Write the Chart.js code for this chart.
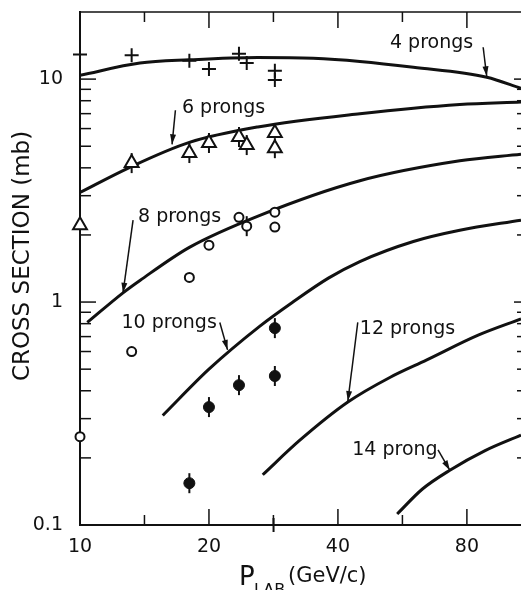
<!DOCTYPE html>
<html>
<head>
<meta charset="utf-8">
<script src="https://cdn.jsdelivr.net/npm/chart.js@4.4.1/dist/chart.umd.min.js"></script>
<style>
  html, body { margin: 0; padding: 0; background: #fff; overflow: hidden; }
  #wrap { width: 521px; height: 590px; position: relative; }
</style>
</head>
<body>
<div id="wrap"><canvas id="grafico"></canvas></div>
<script>
// P_lab (GeV/c) vs cross section (mb)

// theory curves
const curve4X = [10, 13.8, 18, 26, 35, 45, 60, 89, 107];
const curve4Y = [10.4, 11.8, 12.2, 12.5, 12.4, 12.0, 11.3, 10.2, 9.1];
const curve6X = [10, 13, 18, 26, 45, 77, 107];
const curve6Y = [3.1, 4.0, 5.2, 6.1, 7.0, 7.7, 7.9];
const curve8X = [10.4, 12.6, 13.8, 18, 26.3, 45, 77, 107];
const curve8Y = [0.81, 1.1, 1.25, 1.76, 2.45, 3.5, 4.3, 4.6];
const curve10X = [15.6, 20, 26.3, 31.4, 38, 45, 60, 77, 107];
const curve10Y = [0.31, 0.50, 0.78, 1.0, 1.28, 1.52, 1.87, 2.1, 2.33];
const curve12X = [26.7, 32.6, 42.2, 53, 64.5, 85, 107];
const curve12Y = [0.168, 0.24, 0.356, 0.46, 0.55, 0.71, 0.84];
const curve14X = [55, 63, 73, 88, 107];
const curve14Y = [0.112, 0.145, 0.176, 0.215, 0.253];

// measured points
const plus4X = [10, 13.2, 18, 20, 23.5, 24.5, 28.5, 28.5, 28.3];
const plus4Y = [12.9, 12.8, 12.1, 11.1, 13.0, 11.8, 10.9, 9.9, 0.1];
const tri6X = [10, 13.2, 18, 20, 23.5, 24.5, 28.5, 28.5];
const tri6Y = [2.21, 4.2, 4.66, 5.17, 5.5, 5.06, 5.73, 4.9];
const tri6Bar = [0, 1, 1, 1, 1, 1, 0, 1];
const circ8X = [10, 13.2, 18, 20, 23.5, 24.5, 28.5, 28.5];
const circ8Y = [0.249, 0.60, 1.29, 1.80, 2.40, 2.19, 2.53, 2.17];
const circ8Bar = [1, 0, 0, 0, 0, 1, 0, 0];
const dot10X = [18, 20, 23.5, 28.5, 28.5];
const dot10Y = [0.154, 0.338, 0.424, 0.764, 0.466];
const dot10Bar = [1, 1, 1, 1, 1];

// axes
const xLabelValues = [10, 20, 40, 80];
const xTickValues = [14.14, 20, 28.28, 40, 56.57, 80];
const yLabelValues = [0.1, 1, 10];
const yMajorTicks = [1, 10];
const yMinorTicks = [0.2, 0.3, 0.4, 0.5, 0.6, 0.7, 0.8, 0.9, 2, 3, 4, 5, 6, 7, 8, 9];

// curve labels: text anchor, arrow start, arrow tip (data coords)
const notes = [
  { text: '4 prongs', at: [52.9, 14.5], from: [87.3, 13.9], to: [89.0, 10.3] },
  { text: '6 prongs', at: [17.3, 7.4], from: [16.7, 7.25], to: [16.4, 5.1] },
  { text: '8 prongs', at: [13.66, 2.4], from: [13.3, 2.33], to: [12.6, 1.1] },
  { text: '10 prongs', at: [12.5, 0.805], from: [21.2, 0.81], to: [22.1, 0.61] },
  { text: '12 prongs', at: [45.0, 0.757], from: [44.5, 0.81], to: [42.2, 0.36] },
  { text: '14 prong', at: [43.2, 0.217], from: [68.5, 0.217], to: [73.0, 0.176] }
];

const ink = '#111';
const fontFam = 'DejaVu Sans';

const pts = (xs, ys) => xs.map((v, i) => ({ x: v, y: ys[i] }));
const barPts = (xs, ys, flags) => pts(xs, ys).filter((p, i) => flags[i]);

function curve(xs, ys) {
  return {
    data: pts(xs, ys),
    showLine: true,
    borderColor: ink,
    borderWidth: 3,
    pointRadius: 0,
    cubicInterpolationMode: 'monotone',
    fill: false
  };
}

const decor = {
  id: 'decor',
  afterDraw(chart) {
    const { ctx, chartArea: a, scales: { x, y } } = chart;
    ctx.save();
    ctx.strokeStyle = ink;
    ctx.fillStyle = ink;
    const seg = (x1, y1, x2, y2) => {
      ctx.beginPath(); ctx.moveTo(x1, y1); ctx.lineTo(x2, y2); ctx.stroke();
    };

    // top frame
    ctx.lineWidth = 1.5;
    seg(a.left, a.top, a.right, a.top);

    // inward ticks
    ctx.lineWidth = 1.5;
    xTickValues.forEach(v => {
      const px = x.getPixelForValue(v);
      const len = xLabelValues.includes(v) ? 16 : 10;
      seg(px, a.bottom, px, a.bottom - len);
      seg(px, a.top, px, a.top + len);
    });
    yMinorTicks.concat(yMajorTicks).forEach(v => {
      const py = y.getPixelForValue(v);
      const major = yMajorTicks.includes(v);
      seg(a.left, py, a.left + (major ? 16 : 11), py);
      seg(a.right, py, a.right - (major ? 7 : 4), py);
    });

    // curve labels and arrows
    ctx.font = '19px "' + fontFam + '"';
    ctx.textAlign = 'left';
    ctx.textBaseline = 'middle';
    notes.forEach(n => {
      ctx.fillText(n.text, x.getPixelForValue(n.at[0]), y.getPixelForValue(n.at[1]));
      const x1 = x.getPixelForValue(n.from[0]), y1 = y.getPixelForValue(n.from[1]);
      const x2 = x.getPixelForValue(n.to[0]), y2 = y.getPixelForValue(n.to[1]);
      ctx.lineWidth = 1.5;
      seg(x1, y1, x2, y2);
      const ang = Math.atan2(y2 - y1, x2 - x1);
      ctx.beginPath();
      ctx.moveTo(x2, y2);
      ctx.lineTo(x2 - 10 * Math.cos(ang) + 3 * Math.sin(ang), y2 - 10 * Math.sin(ang) - 3 * Math.cos(ang));
      ctx.lineTo(x2 - 10 * Math.cos(ang) - 3 * Math.sin(ang), y2 - 10 * Math.sin(ang) + 3 * Math.cos(ang));
      ctx.closePath();
      ctx.fill();
    });

    // y axis title
    ctx.save();
    ctx.translate(23, 256);
    ctx.rotate(-Math.PI / 2);
    ctx.textAlign = 'center';
    ctx.font = '23px "' + fontFam + '"';
    ctx.fillText('CROSS SECTION (mb)', 0, 0);
    ctx.restore();

    // x axis title with subscript
    ctx.textAlign = 'left';
    ctx.textBaseline = 'alphabetic';
    ctx.font = '26px "' + fontFam + '"';
    ctx.fillText('P', 239, 585);
    ctx.font = '16px "' + fontFam + '"';
    ctx.fillText('LAB', 254, 595);
    ctx.font = '21px "' + fontFam + '"';
    ctx.fillText('(GeV/c)', 288, 582);
    ctx.restore();
  }
};

const tickFont = { family: fontFam, size: 19 };

new Chart(document.getElementById('grafico'), {
  type: 'scatter',
  data: {
    datasets: [
      { data: pts(plus4X, plus4Y), pointStyle: 'cross', pointRadius: 7, borderColor: ink, borderWidth: 2, clip: false },
      { data: pts(tri6X, tri6Y), pointStyle: 'triangle', pointRadius: 8, borderColor: ink, backgroundColor: '#fff', borderWidth: 2, clip: false },
      { data: pts(circ8X, circ8Y), pointStyle: 'circle', pointRadius: 4.5, borderColor: ink, backgroundColor: '#fff', borderWidth: 2, clip: false },
      { data: pts(dot10X, dot10Y), pointStyle: 'circle', pointRadius: 5.5, borderColor: ink, backgroundColor: ink, borderWidth: 1 },
      {
        data: barPts(tri6X, tri6Y, tri6Bar).concat(barPts(circ8X, circ8Y, circ8Bar), barPts(dot10X, dot10Y, dot10Bar)),
        pointStyle: 'line', pointRotation: 90, pointRadius: 10, borderColor: ink, borderWidth: 2, clip: false
      },
      curve(curve4X, curve4Y),
      curve(curve6X, curve6Y),
      curve(curve8X, curve8Y),
      curve(curve10X, curve10Y),
      curve(curve12X, curve12Y),
      curve(curve14X, curve14Y)
    ]
  },
  options: {
    responsive: true,
    maintainAspectRatio: false,
    animation: false,
    layout: { autoPadding: false, padding: { top: 12, right: 0, left: 0, bottom: 0 } },
    plugins: { legend: { display: false }, tooltip: { enabled: false } },
    scales: {
      x: {
        type: 'logarithmic',
        min: 10,
        max: 107,
        grid: { display: false, drawTicks: false },
        border: { display: true, color: ink, width: 2 },
        afterBuildTicks: s => { s.ticks = xLabelValues.map(v => ({ value: v })); },
        afterFit: s => { s.height = 65; s.paddingLeft = 0; s.paddingRight = 0; s.paddingTop = 0; s.paddingBottom = 0; },
        ticks: { padding: 11, color: ink, font: tickFont, autoSkip: false, maxRotation: 0, callback: v => String(v) }
      },
      y: {
        type: 'logarithmic',
        min: 0.1,
        max: 20,
        grid: { display: false, drawTicks: false },
        border: { display: true, color: ink, width: 2 },
        afterBuildTicks: s => { s.ticks = yLabelValues.map(v => ({ value: v })); },
        afterFit: s => { s.width = 80; s.paddingLeft = 0; s.paddingRight = 0; s.paddingTop = 0; s.paddingBottom = 0; },
        ticks: { padding: 17, color: ink, font: tickFont, autoSkip: false, callback: v => String(v) }
      }
    }
  },
  plugins: [decor]
});
</script>
</body>
</html>
